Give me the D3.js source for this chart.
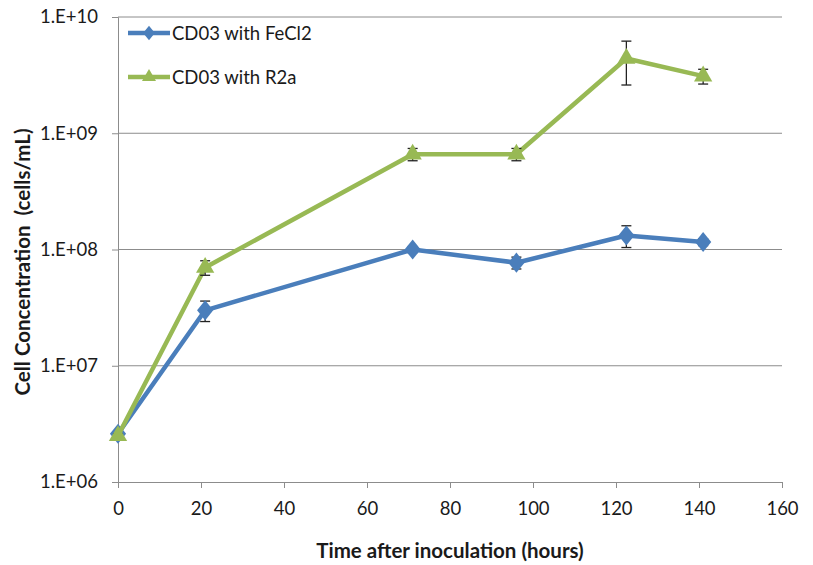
<!DOCTYPE html>
<html>
<head>
<meta charset="utf-8">
<script src="https://cdn.jsdelivr.net/npm/d3@7"></script>
<style>
  body { margin: 0; background: #fff; }
  text { font-family: Lato, "Open Sans", sans-serif; }
</style>
</head>
<body>
<svg id="chart" width="813" height="565"></svg>
<script>
// Sampling times (hours)
const hours = [0, 21, 71, 96, 122.5, 141];

// Cell concentrations (cells/mL) and standard deviations
const fecl2 = [2.6e6, 3.0e7, 1.0e8, 7.7e7, 1.32e8, 1.16e8];
const fecl2Err = [1e5, 6e6, 6e6, 9e6, 2.8e7, 8e6];
const r2a = [2.5e6, 7.0e7, 6.6e8, 6.6e8, 4.4e9, 3.1e9];
const r2aErr = [1e5, 1.0e7, 8e7, 8e7, 1.8e9, 4.5e8];

const xTicks = [0, 20, 40, 60, 80, 100, 120, 140, 160];
const yTicks = [1e6, 1e7, 1e8, 1e9, 1e10];

// Diamond drawn as a rotated square, stretched a little vertically
const diamond = {
  draw(ctx, size) {
    const w = Math.sqrt(size) * 0.62;
    const h = w * 1.25;
    ctx.moveTo(0, -h);
    ctx.lineTo(w, 0);
    ctx.lineTo(0, h);
    ctx.lineTo(-w, 0);
    ctx.closePath();
  },
};

const series = [
  { name: 'CD03 with FeCl2', values: fecl2, err: fecl2Err, color: '#4a7ebb', symbol: diamond, size: 170, legendSize: 90 },
  { name: 'CD03 with R2a', values: r2a, err: r2aErr, color: '#98b954', symbol: d3.symbolTriangle, size: 145, legendSize: 85 },
];

const svg = d3.select('#chart');
const m = { left: 118, right: 782, top: 17, bottom: 482 };

const x = d3.scaleLinear().domain([0, 160]).range([m.left, m.right]);
const y = d3.scaleLog().domain([1e6, 1e10]).range([m.bottom, m.top]);

const expFmt = (v) => '1.E+' + String(Math.round(Math.log10(v))).padStart(2, '0');

// Gridlines
svg.append('g')
  .selectAll('line')
  .data(yTicks.slice(1))
  .join('line')
  .attr('x1', m.left).attr('x2', m.right)
  .attr('y1', (d) => y(d)).attr('y2', (d) => y(d))
  .attr('stroke', '#8c8c8c').attr('stroke-width', 1);

// Y axis
const yAxis = svg.append('g')
  .attr('transform', `translate(${m.left},0)`)
  .call(d3.axisLeft(y).tickValues(yTicks).tickFormat(expFmt).tickSize(6).tickPadding(14));
yAxis.select('.domain').attr('stroke', '#8c8c8c');
yAxis.selectAll('.tick line').attr('stroke', '#8c8c8c');
yAxis.selectAll('text').attr('font-size', 18.5).attr('fill', '#1a1a1a');

// X axis
const xAxis = svg.append('g')
  .attr('transform', `translate(0,${m.bottom})`)
  .call(d3.axisBottom(x).tickValues(xTicks).tickSize(6).tickPadding(14));
xAxis.select('.domain').attr('stroke', '#8c8c8c');
xAxis.selectAll('.tick line').attr('stroke', '#8c8c8c');
xAxis.selectAll('text').attr('font-size', 18.5).attr('fill', '#1a1a1a');

// Axis titles
svg.append('text')
  .attr('x', 450).attr('y', 558)
  .attr('text-anchor', 'middle')
  .attr('font-size', 20.5).attr('font-weight', 'bold').attr('fill', '#1a1a1a')
  .text('Time after inoculation (hours)');

svg.append('text')
  .attr('transform', `translate(30,262) rotate(-90)`)
  .attr('text-anchor', 'middle')
  .attr('font-size', 20.5).attr('font-weight', 'bold').attr('fill', '#1a1a1a')
  .attr('xml:space', 'preserve')
  .text('Cell Concentration  (cells/mL)');

const line = d3.line()
  .x((d) => x(d.t))
  .y((d) => y(d.v));

series.forEach((s) => {
  const pts = hours.map((t, i) => ({ t, v: s.values[i], e: s.err[i] }));
  const g = svg.append('g');

  g.append('path')
    .datum(pts)
    .attr('d', line)
    .attr('fill', 'none')
    .attr('stroke', s.color)
    .attr('stroke-width', 4.5)
    .attr('stroke-linejoin', 'round');

  // Error bars (under the markers)
  const eb = g.selectAll('g.err')
    .data(pts)
    .join('g')
    .attr('class', 'err')
    .attr('stroke', '#222')
    .attr('stroke-width', 1.3);
  eb.append('line')
    .attr('x1', (d) => x(d.t)).attr('x2', (d) => x(d.t))
    .attr('y1', (d) => y(d.v + d.e)).attr('y2', (d) => y(d.v - d.e));
  eb.append('line')
    .attr('x1', (d) => x(d.t) - 5).attr('x2', (d) => x(d.t) + 5)
    .attr('y1', (d) => y(d.v + d.e)).attr('y2', (d) => y(d.v + d.e));
  eb.append('line')
    .attr('x1', (d) => x(d.t) - 5).attr('x2', (d) => x(d.t) + 5)
    .attr('y1', (d) => y(d.v - d.e)).attr('y2', (d) => y(d.v - d.e));

  const sym = d3.symbol().type(s.symbol).size(s.size);
  g.selectAll('path.mk')
    .data(pts)
    .join('path')
    .attr('class', 'mk')
    .attr('d', sym)
    .attr('transform', (d) => `translate(${x(d.t)},${y(d.v)})`)
    .attr('fill', s.color);
});

// Legend
const legend = svg.append('g').attr('transform', 'translate(128,33)');
series.forEach((s, i) => {
  const row = legend.append('g').attr('transform', `translate(0,${i * 44})`);
  row.append('line')
    .attr('x1', 0).attr('x2', 42)
    .attr('stroke', s.color).attr('stroke-width', 4.5);
  row.append('path')
    .attr('d', d3.symbol().type(s.symbol).size(s.legendSize))
    .attr('transform', 'translate(21,0)')
    .attr('fill', s.color);
  row.append('text')
    .attr('x', 44).attr('y', 6.5)
    .attr('font-size', 18.5).attr('fill', '#1a1a1a')
    .text(s.name);
});
</script>
</body>
</html>
